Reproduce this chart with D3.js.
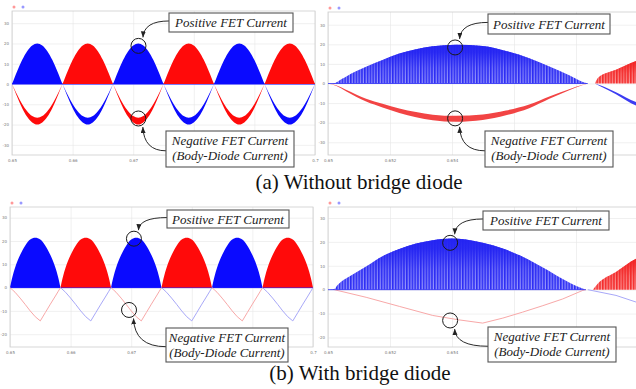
<!DOCTYPE html>
<html>
<head>
<meta charset="utf-8">
<script src="https://cdn.jsdelivr.net/npm/d3@7"></script>
<style>
  body { margin: 0; background: #fff; }
  svg { display: block; }
  .serif { font-family: "Liberation Serif", "Times New Roman", "DejaVu Serif", serif; }
</style>
</head>
<body>
<svg id="fig" width="636" height="389"></svg>
<script>

// ---- tick values
var yTicksTop = [30, 20, 10, 0, -10, -20, -30]
var yTicksBottom = [30, 20, 10, 0, -10, -20]
var xTicksWide = [0.65, 0.66, 0.67, 0.68, 0.69, 0.7]
var xTicksZoom = [0.65, 0.652, 0.654, 0.656, 0.658, 0.66]

// ---- wide panels: six line half-cycles (0.65 s .. 0.70 s)
var halfCycleEdges = [0.65, 0.65833, 0.66667, 0.675, 0.68333, 0.69167, 0.7]
var positiveFet = ["blue", "red", "blue", "red", "blue", "red"]

// shape of one half-cycle, read at these fractions of the half-cycle
var phase = [0, 0.05, 0.1, 0.2, 0.3, 0.4, 0.5, 0.6, 0.7, 0.8, 0.9, 0.95, 1]
// (a) without bridge diode
var posA = [0, 3.1, 6.2, 11.8, 16.2, 19, 20, 19, 16.2, 11.8, 6.2, 3.1, 0]
var negOuterA = [0, -3.1, -6.2, -11.8, -16.2, -19, -20, -19, -16.2, -11.8, -6.2, -3.1, 0]
var negInnerA = [0, -2.6, -5.2, -9.8, -13.4, -15.8, -16.6, -15.8, -13.4, -9.8, -5.2, -2.6, 0]
// (b) with bridge diode
var posB = [0, 4.8, 8.5, 14, 18, 20.6, 21.4, 20.6, 18, 14, 8.5, 4.8, 0]
var negB = [0, -1, -2, -4.5, -7.2, -10, -12.5, -14.3, -10.7, -7.1, -3.6, -1.8, 0]

// ---- zoomed panels (0.65 s .. 0.66 s)
// (a) right
var aPosT = [0.65, 0.65015, 0.65047, 0.65058, 0.65123, 0.65176, 0.6523, 0.65284, 0.65338, 0.65413, 0.65499, 0.65574, 0.65649, 0.65714, 0.65778, 0.65822, 0.65838]
var aPosV = [0, 0, 2.5, 3.5, 8.5, 12, 15.3, 17.5, 19, 19.8, 19.1, 16.6, 12.9, 8.7, 4.2, 0.8, 0]
var aNegT = [0.65, 0.65026, 0.65058, 0.65123, 0.65176, 0.6523, 0.65284, 0.65338, 0.65413, 0.65499, 0.65574, 0.65649, 0.65714, 0.65778, 0.65822, 0.65838]
var aNegOuter = [0, -1.2, -4, -9.2, -12.2, -15, -17.2, -18.7, -19.5, -18.6, -16.2, -12.6, -7.8, -3.4, -0.8, 0]
var aNegInner = [0, -0.9, -3.2, -7.8, -10.4, -12.8, -14.6, -15.9, -16.5, -15.8, -13.8, -10.7, -6.6, -2.9, -0.6, 0]
var aNextPosT = [0.65861, 0.65872, 0.65929, 0.65994, 0.6602]
var aNextPosV = [0, 3, 7, 11.5, 12.8]
var aNextNegT = [0.65861, 0.6588, 0.65929, 0.65994, 0.6602]
var aNextNegOuter = [0, -1.5, -5.5, -11.3, -12.5]
var aNextNegInner = [0, -1, -4.5, -9.5, -10.5]
// (b) right
var bPosT = [0.65, 0.6502, 0.65031, 0.65069, 0.65123, 0.65176, 0.6523, 0.65284, 0.65338, 0.65397, 0.65445, 0.65499, 0.65564, 0.65628, 0.65693, 0.65757, 0.65811, 0.65832]
var bPosV = [0, 0.3, 2, 5.5, 9.7, 14, 17, 19.3, 20.7, 21.4, 21, 19.6, 17.2, 13.8, 9.3, 4.5, 1, 0]
var bNegT = [0.6502, 0.65123, 0.6523, 0.65338, 0.6542, 0.65499, 0.65564, 0.65628, 0.65693, 0.65757, 0.65822, 0.65832]
var bNegV = [0, -3.2, -7, -10.8, -12.6, -14, -11.9, -9.4, -6.7, -3.9, -0.3, 0]
var bNextPosT = [0.65854, 0.6587, 0.65929, 0.65994, 0.6602]
var bNextPosV = [0, 2.5, 7.4, 13, 14.2]
var bNextNegT = [0.65838, 0.65929, 0.65994, 0.6602]
var bNextNegV = [0, -2.4, -5.2, -6.2]

// ---- annotation texts
var posLabel = ["Positive FET Current"]
var negLabel = ["Negative FET Current", "(Body-Diode Current)"]
var captions = ["(a) Without bridge diode", "(b) With bridge diode"]

var col = {
  blue: "#0a0aff", red: "#ff0a0a",
  blueDark: "#2e2ef4", blueLight: "#9c9cfb",
  redDark: "#f42e2e", redLight: "#fb9c9c",
  blueBand: "#3c3cf2", redBand: "#f24444",
  blueThin: "#a8a8f8", redThin: "#f8a8a8"
}

var svg = d3.select("#fig")
var defs = svg.append("defs")

function stripes(id, dark, light) {
  var p = defs.append("pattern").attr("id", id)
    .attr("patternUnits", "userSpaceOnUse")
    .attr("width", 2.8).attr("height", 10)
  p.append("rect").attr("width", 2.8).attr("height", 10).attr("fill", light)
  p.append("rect").attr("width", 1.6).attr("height", 10).attr("fill", dark)
}
stripes("stripeBlue", col.blueDark, col.blueLight)
stripes("stripeRed", col.redDark, col.redLight)

function fade(id, c) {
  var gr = defs.append("linearGradient").attr("id", id)
    .attr("x1", 0).attr("y1", 0).attr("x2", 0).attr("y2", 1)
  gr.append("stop").attr("offset", 0).attr("stop-color", c).attr("stop-opacity", 1)
  gr.append("stop").attr("offset", 0.2).attr("stop-color", c).attr("stop-opacity", 0.9)
  gr.append("stop").attr("offset", 0.6).attr("stop-color", c).attr("stop-opacity", 0.3)
  gr.append("stop").attr("offset", 1).attr("stop-color", c).attr("stop-opacity", 0)
}
fade("fadeBlue", "#2424f2")
fade("fadeRed", "#f22424")

var marker = defs.append("marker").attr("id", "arrow")
  .attr("markerUnits", "userSpaceOnUse")
  .attr("markerWidth", 7).attr("markerHeight", 6)
  .attr("refX", 6).attr("refY", 2.5).attr("orient", "auto")
marker.append("path").attr("d", "M0,0L6,2.5L0,5Z").attr("fill", "#222")

var panels = {
  aWide: { left: 12, right: 315, top: 11, bottom: 155, xDomain: [0.65, 0.7], yDomain: [-35, 36], xTicks: xTicksWide, yTicks: yTicksTop },
  aZoom: { left: 328, right: 638, frameRight: 644, top: 12, bottom: 155, xDomain: [0.65, 0.66], yDomain: [-36.5, 36.5], xTicks: xTicksZoom, yTicks: yTicksTop },
  bWide: { left: 10, right: 313, top: 207, bottom: 347, xDomain: [0.65, 0.7], yDomain: [-25.5, 34.6], xTicks: xTicksWide, yTicks: yTicksBottom },
  bZoom: { left: 328, right: 638, frameRight: 644, top: 207, bottom: 347, xDomain: [0.65, 0.66], yDomain: [-24, 34.6], xTicks: xTicksZoom, yTicks: yTicksBottom }
}

// annotation boxes in pixels; used to leave out tick labels hidden under them
var boxes = {
  aWidePos: [169, 13, 124, 19], aWideNeg: [166, 131, 128, 36],
  aZoomPos: [488, 14, 122, 20], aZoomNeg: [485, 131, 128, 36],
  bWidePos: [167, 210, 122, 18], bWideNeg: [166, 328, 122, 34],
  bZoomPos: [483, 211, 126, 19], bZoomNeg: [488, 327, 128, 35]
}
function underBox(px, py) {
  return Object.values(boxes).some(b => px > b[0] - 8 && px < b[0] + b[2] + 8 && py > b[1] && py < b[1] + b[3] + 2)
}

var clipN = 0
function setup(p) {
  p.x = d3.scaleLinear().domain(p.xDomain).range([p.left, p.right])
  p.y = d3.scaleLinear().domain(p.yDomain).range([p.bottom, p.top])
  var fr = p.frameRight || p.right
  var g = svg.append("g")

  var yAxis = g.append("g").attr("transform", `translate(${p.left},0)`)
    .call(d3.axisLeft(p.y).tickValues(p.yTicks).tickSize(-(fr - p.left)).tickPadding(3).tickFormat(d => d))
  var xAxis = g.append("g").attr("transform", `translate(0,${p.bottom})`)
    .call(d3.axisBottom(p.x).tickValues(p.xTicks).tickSize(-(p.bottom - p.top)).tickPadding(4).tickFormat(d => d))
  ;[yAxis, xAxis].forEach(a => {
    a.select(".domain").remove()
    a.selectAll("line").attr("stroke", "#e6e6e6").attr("stroke-width", 0.6)
    a.selectAll("text").attr("font-family", "DejaVu Sans").attr("font-size", 4).attr("fill", "#777")
  })
  xAxis.selectAll(".tick text").filter(d => underBox(p.x(d), p.bottom + 6) || p.x(d) > 630).remove()

  g.append("rect").attr("x", p.left).attr("y", p.top)
    .attr("width", fr - p.left).attr("height", p.bottom - p.top)
    .attr("fill", "none").attr("stroke", "#cdcdcd").attr("stroke-width", 0.8)

  // legend dots
  g.append("circle").attr("cx", p.left + 2).attr("cy", p.top - 4).attr("r", 1.5).attr("fill", "#f99")
  g.append("circle").attr("cx", p.left + 11).attr("cy", p.top - 4).attr("r", 1.5).attr("fill", "#99f")

  var id = "clip" + (clipN++)
  defs.append("clipPath").attr("id", id).append("rect")
    .attr("x", p.left).attr("y", p.top).attr("width", fr - p.left).attr("height", p.bottom - p.top)
  p.plot = svg.append("g").attr("clip-path", `url(#${id})`)

  p.area = d3.area().x(d => p.x(d.t)).y0(d => p.y(d.v0)).y1(d => p.y(d.v1)).curve(d3.curveMonotoneX)
  p.line = d3.line().x(d => p.x(d.t)).y(d => p.y(d.v)).curve(d3.curveMonotoneX)
  return p
}

function other(c) { return c === "blue" ? "red" : "blue" }

function cyclePoints(i, a, b) {
  var t0 = halfCycleEdges[i], t1 = halfCycleEdges[i + 1]
  return phase.map((f, k) => ({ t: t0 + f * (t1 - t0), v0: b ? b[k] : 0, v1: a[k], v: a[k] }))
}

function zip(ts, a, b) {
  return ts.map((t, k) => ({ t: t, v0: b ? b[k] : 0, v1: a[k], v: a[k] }))
}

// ---------- (a) wide
var pa = setup(panels.aWide)
pa.plot.append("line").attr("x1", pa.left).attr("x2", pa.right)
  .attr("y1", pa.y(0)).attr("y2", pa.y(0)).attr("stroke", col.blue).attr("stroke-width", 1)
positiveFet.forEach((c, i) => {
  pa.plot.append("path").datum(cyclePoints(i, posA))
    .attr("d", pa.area).attr("fill", col[c])
  pa.plot.append("path").datum(cyclePoints(i, negOuterA, negInnerA))
    .attr("d", pa.area).attr("fill", col[other(c)])
})

// ---------- (a) zoom
var pz = setup(panels.aZoom)
pz.plot.append("path").datum(zip(aPosT, aPosV)).attr("d", pz.area).attr("fill", "url(#stripeBlue)")
pz.plot.append("path").datum(zip(aPosT, aPosV)).attr("d", pz.area).attr("fill", "url(#fadeBlue)")
pz.plot.append("path").datum(zip(aNegT, aNegOuter, aNegInner)).attr("d", pz.area).attr("fill", col.redBand)
pz.plot.append("path").datum(zip(aNextPosT, aNextPosV)).attr("d", pz.area).attr("fill", "url(#stripeRed)")
pz.plot.append("path").datum(zip(aNextPosT, aNextPosV)).attr("d", pz.area).attr("fill", "url(#fadeRed)")
pz.plot.append("path").datum(zip(aNextNegT, aNextNegOuter, aNextNegInner)).attr("d", pz.area).attr("fill", col.blueBand)
pz.plot.append("line").attr("x1", pz.x(aPosT[0])).attr("x2", pz.x(aPosT[aPosT.length - 1]))
  .attr("y1", pz.y(0)).attr("y2", pz.y(0)).attr("stroke", col.blueDark).attr("stroke-width", 0.8)

// ---------- (b) wide
var pb = setup(panels.bWide)
pb.plot.append("line").attr("x1", pb.left).attr("x2", pb.right)
  .attr("y1", pb.y(0)).attr("y2", pb.y(0)).attr("stroke", col.blue).attr("stroke-width", 1)
positiveFet.forEach((c, i) => {
  pb.plot.append("path").datum(cyclePoints(i, posB))
    .attr("d", pb.area).attr("fill", col[c])
  pb.plot.append("path").datum(cyclePoints(i, negB))
    .attr("d", pb.line.curve(d3.curveLinear)).attr("fill", "none")
    .attr("stroke", col[other(c) + "Thin"]).attr("stroke-width", 1)
})

// ---------- (b) zoom
var pc = setup(panels.bZoom)
pc.plot.append("path").datum(zip(bPosT, bPosV)).attr("d", pc.area).attr("fill", "url(#stripeBlue)")
pc.plot.append("path").datum(zip(bPosT, bPosV)).attr("d", pc.area).attr("fill", "url(#fadeBlue)")
pc.plot.append("path").datum(zip(bNextPosT, bNextPosV)).attr("d", pc.area).attr("fill", "url(#stripeRed)")
pc.plot.append("path").datum(zip(bNextPosT, bNextPosV)).attr("d", pc.area).attr("fill", "url(#fadeRed)")
pc.plot.append("path").datum(zip(bNegT, bNegV)).attr("d", pc.line.curve(d3.curveLinear))
  .attr("fill", "none").attr("stroke", col.redThin).attr("stroke-width", 1)
pc.plot.append("path").datum(zip(bNextNegT, bNextNegV)).attr("d", pc.line)
  .attr("fill", "none").attr("stroke", col.blueThin).attr("stroke-width", 1)
pc.plot.append("line").attr("x1", pc.x(bPosT[0])).attr("x2", pc.x(bPosT[bPosT.length - 1]))
  .attr("y1", pc.y(0)).attr("y2", pc.y(0)).attr("stroke", col.blueDark).attr("stroke-width", 0.8)

// ---------- annotations (circle anchored in data units, box in pixels)
var notes = [
  { p: pa, t: 0.67087, v: 18.8, box: boxes.aWidePos, lines: posLabel, up: false },
  { p: pa, t: 0.67085, v: -17, box: boxes.aWideNeg, lines: negLabel, up: true },
  { p: pz, t: 0.6541, v: 18.4, box: boxes.aZoomPos, lines: posLabel, up: false },
  { p: pz, t: 0.6541, v: -17.8, box: boxes.aZoomNeg, lines: negLabel, up: true },
  { p: pb, t: 0.67045, v: 21, box: boxes.bWidePos, lines: posLabel, up: false },
  { p: pb, t: 0.66964, v: -9.6, box: boxes.bWideNeg, lines: negLabel, up: true },
  { p: pc, t: 0.65394, v: 19.6, box: boxes.bZoomPos, lines: posLabel, up: false },
  { p: pc, t: 0.65394, v: -12.9, box: boxes.bZoomNeg, lines: negLabel, up: true }
]

var ann = svg.append("g")
notes.forEach(n => {
  var cx = n.p.x(n.t), cy = n.p.y(n.v)
  ann.append("circle").attr("cx", cx).attr("cy", cy).attr("r", 7.5)
    .attr("fill", "none").attr("stroke", "#1a1a1a").attr("stroke-width", 1)

  var b = n.box
  var sx = b[0], sy = n.up ? b[1] + b[3] * 0.55 : b[1] + b[3] * 0.42
  var tx = cx + 4.5, ty = n.up ? cy + 8.5 : cy - 8.5
  ann.append("path").attr("d", `M${sx},${sy}Q${tx + 1},${sy} ${tx},${ty}`)
    .attr("fill", "none").attr("stroke", "#2a2a2a").attr("stroke-width", 1)
    .attr("marker-end", "url(#arrow)")

  ann.append("rect").attr("x", b[0]).attr("y", b[1]).attr("width", b[2]).attr("height", b[3])
    .attr("fill", "#fff").attr("stroke", "#555").attr("stroke-width", 1.1)
  var txt = ann.append("text").attr("class", "serif")
    .attr("font-style", "italic").attr("font-size", 13).attr("fill", "#222")
    .attr("text-anchor", "middle")
  n.lines.forEach((s, k) => {
    txt.append("tspan").attr("x", b[0] + b[2] / 2)
      .attr("y", b[1] + (n.lines.length === 1 ? b[3] / 2 + 4.5 : 13.5 + k * 15))
      .text(s)
  })
})

// ---------- captions
svg.append("text").attr("class", "serif").attr("x", 359).attr("y", 189).attr("text-anchor", "middle")
  .attr("font-size", 21).attr("fill", "#111")
  .text(captions[0])
svg.append("text").attr("class", "serif").attr("x", 360).attr("y", 380).attr("text-anchor", "middle")
  .attr("font-size", 21).attr("fill", "#111")
  .text(captions[1])

</script>
</body>
</html>
